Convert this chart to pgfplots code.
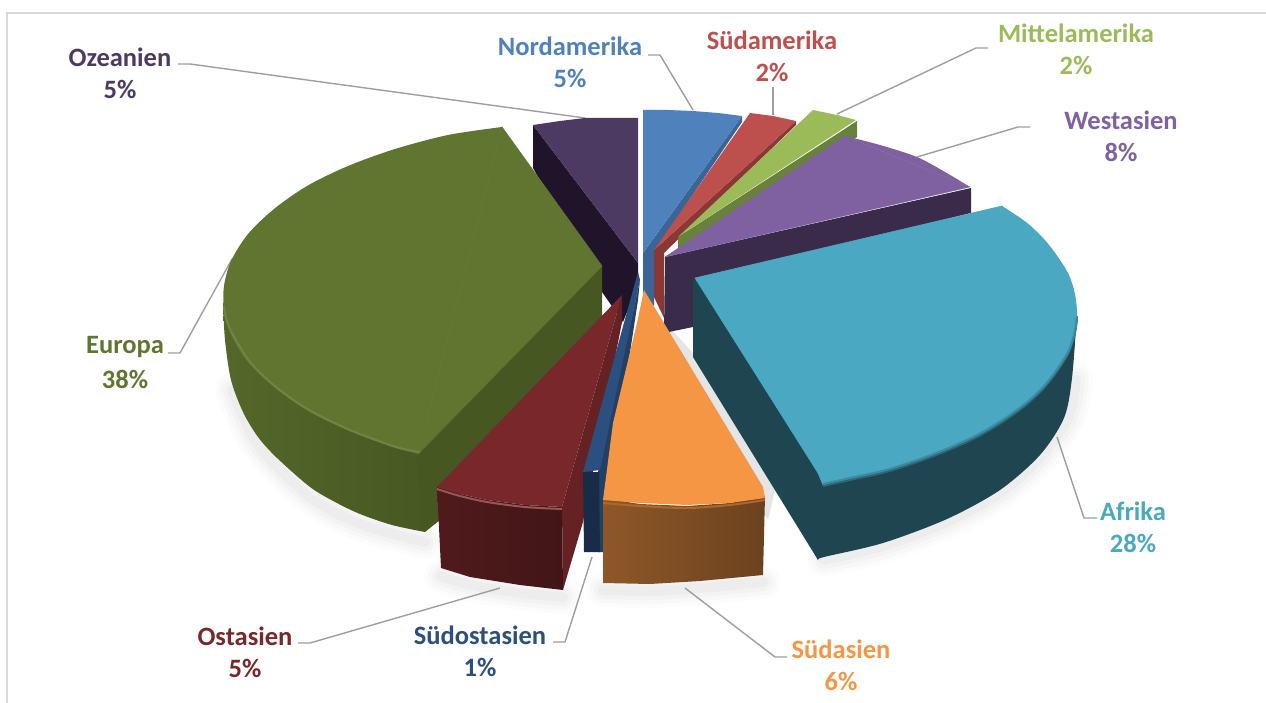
\documentclass[border=0pt]{standalone}
\usepackage{pgfplots}
\usepackage{fontspec}
\setmainfont{Carlito}
\pgfplotsset{compat=1.18}
\definecolor{cO}{HTML}{4D3A62}\definecolor{cOd}{HTML}{1F1429}
\definecolor{cN}{HTML}{4F81BD}\definecolor{cNd}{HTML}{3A6594}
\definecolor{cS}{HTML}{BD4F4C}\definecolor{cSd}{HTML}{8A3836}
\definecolor{cM}{HTML}{9BBB59}\definecolor{cMd}{HTML}{6A803D}
\definecolor{cW}{HTML}{7F60A0}\definecolor{cWd}{HTML}{3B2B4A}
\definecolor{cA}{HTML}{4AA8C3}\definecolor{cAd}{HTML}{1F4650}
\definecolor{cSa}{HTML}{F59645}\definecolor{cE}{HTML}{60752F}\definecolor{cEd}{HTML}{465722}
\definecolor{cOs}{HTML}{78282A}\definecolor{cOsd}{HTML}{652123}
\definecolor{cSo}{HTML}{2B4F7E}\definecolor{cSod}{HTML}{223F66}
\newcommand{\softshadow}[1]{%
\addplot[smooth,draw=black,opacity=0.012,line width=34pt,line cap=round,line join=round] coordinates {#1};
\addplot[smooth,draw=black,opacity=0.015,line width=26pt,line cap=round,line join=round] coordinates {#1};
\addplot[smooth,draw=black,opacity=0.02,line width=18pt,line cap=round,line join=round] coordinates {#1};
\addplot[smooth,draw=black,opacity=0.025,line width=10pt,line cap=round,line join=round] coordinates {#1};
}
\newcommand{\lbl}[5]{%
\node[text=#1,font=\fontsize{26.5}{28}\selectfont\bfseries,anchor=center] at (axis cs:#2,#3) {#4};
\node[text=#1,font=\fontsize{26.5}{28}\selectfont\bfseries,anchor=center] at (axis cs:#2,#3+32) {#5};
}
\begin{document}
\begin{tikzpicture}
\path[use as bounding box] (0,0) rectangle (1266pt,703pt);
\begin{axis}[at={(0,0)},anchor=south west,scale only axis,width=1266pt,height=703pt,xmin=0,xmax=1266,ymin=0,ymax=703,y dir=reverse,hide axis,clip=true,no markers]
% frame
\addplot[draw=black!15,line width=1.6pt] coordinates {(7,703)(7,13)(1266,13)};
% shadows
\softshadow{(232,390)(258,445)(310,497)(360,524)(425,542)}
\softshadow{(441,576)(470,585)(520,593)(563,597)}
\softshadow{(603,590)(650,591)(700,588)(763,582)}
\softshadow{(824,560)(883,546)(947,522)(1000,493)(1040,458)(1068,418)(1076,380)}
\addplot[fill=black!10,draw=none] coordinates {(672,330)(692,352)(775,490)(768,520)(660,340)} -- cycle;
% leader lines
\addplot[draw=black!38,line width=1.4pt] coordinates {(178,64)(190,64)(585,118)};
\addplot[draw=black!38,line width=1.4pt] coordinates {(648,55)(660,55)(693,110)};
\addplot[draw=black!38,line width=1.4pt] coordinates {(773,87)(773,115)};
\addplot[draw=black!38,line width=1.4pt] coordinates {(988,48)(976,48)(837,114)};
\addplot[draw=black!38,line width=1.4pt] coordinates {(1030,127)(1018,127)(917,157)};
\addplot[draw=black!38,line width=1.4pt] coordinates {(1057,437)(1084,518)(1097,518)};
\addplot[draw=black!38,line width=1.4pt] coordinates {(685,588)(775,657)(787,657)};
\addplot[draw=black!38,line width=1.4pt] coordinates {(592,557)(565,642)(553,642)};
\addplot[draw=black!38,line width=1.4pt] coordinates {(500,588)(310,643)(298,643)};
\addplot[draw=black!38,line width=1.4pt] coordinates {(232,259)(180,353)(168,353)};
% Ozeanien
\addplot[fill=cOd,draw=none] coordinates {(533,125)(638,263)(638,285)(623,322)(602,292)(533,168)} -- cycle;
\addplot[fill=cO,draw=none] coordinates {(533,125)(560,121)(585,118)(612,118)(638,118)(638,263)} -- cycle;
% Nordamerika
\addplot[fill=cNd,draw=none] coordinates {(742,116)(742,122)(654,252)(654,305)(646,315)(643,290)(643,253)} -- cycle;
\addplot[fill=cN,draw=none] coordinates {(643,110)(668,110)(693,111)(718,113)(742,116)(643,253)} -- cycle;
% Suedamerika
\addplot[fill=cSd,draw=none] coordinates {(796,121)(796,125)(664,253)(664,318)(654,297)(654,250)} -- cycle;
\addplot[fill=cS,draw=none] coordinates {(750,113)(773,116)(796,121)(654,250)} -- cycle;
% Mittelamerika
\addplot[fill=cMd,draw=none] coordinates {(857,121)(857,137)(700,245)(678,248)(678,237)} -- cycle;
\addplot[fill=cM,draw=none] coordinates {(813,110)(837,115)(856,120)(678,237)} -- cycle;
% Westasien
\addplot[fill=cWd,draw=none] coordinates {(665,257)(971,188)(971,213)(700,280)(693,327)(664,333)} -- cycle;
\addplot[fill=cW,smooth,draw=none] coordinates {(845,136)(880,145)(917,157)(945,172)(970,187)} -- cycle;
\addplot[fill=cW,draw=cW,line width=0.3pt] coordinates {(845,136)(970,187)(665,257)} -- cycle;
% Europa
\addplot[left color=cE!88!black,right color=cEd,smooth,draw=none] coordinates {(223,303)(225,340)(231,380)(243,412)(258,437)(277,458)(310,487)(335,502)(360,514)(392,525)(425,532)} -- (axis cs:440,440) -- (axis cs:300,300) -- cycle;
\addplot[fill=cEd,draw=none] coordinates {(602,266)(602,330)(440,520)(425,532)(415,445)} -- cycle;
\addplot[fill=cE,smooth,draw=none] coordinates {(502,127)(448,135)(395,149)(348,166)(307,186)(274,209)(248,234)(231,261)(224,286)(224,310)(231,335)(248,362)(274,387)(307,410)(348,430)(395,447)(418,454)} -- cycle;
\addplot[fill=cE,draw=cE,line width=0.6pt] coordinates {(602,266)(502,127)(418,454)} -- cycle;
\addplot[smooth,draw=cE!90!white,line width=2.2pt] coordinates {(224,306)(226,318)(233,335)(250,362)(276,387)(309,410)(350,430)(396,447)(420,452)};
% Afrika
\addplot[fill=cAd,draw=none] coordinates {(695,278)(693,280)(693,357)(818,560)(830,480)} -- cycle;
\addplot[fill=cAd,smooth,draw=none] coordinates {(1077,313)(1072,378)(1064,418)(1040,455)(1000,490)(947,519)(883,543)(824,557)(818,560)} -- (axis cs:820,470) -- cycle;
\addplot[fill=cA,draw=cA,line width=0.6pt] coordinates {(695,278)(1002,206)(1077,313)(823,485)(818,473)} -- cycle;
\addplot[fill=cA,smooth,draw=none] coordinates {(1002,206)(1026,222)(1044,239)(1058,257)(1069,275)(1075,294)(1077,313)(1075,332)(1069,351)(1058,369)(1044,387)(1026,404)(1004,420)(979,435)(951,448)(920,460)(886,471)(850,479)(823,485)} -- cycle;
\addplot[smooth,draw=cA!35!cAd,line width=2pt] coordinates {(823,486)(850,480)(886,472)(920,461)(951,449)(979,436)(1004,421)(1026,405)(1044,388)(1058,370)(1069,352)(1075,333)(1077,318)};
\addplot[smooth,draw=cA!70!cAd,line width=2pt] coordinates {(823,484)(850,478)(886,470)(920,459)(951,447)(979,434)(1004,419)(1026,403)(1044,386)(1058,368)(1069,350)(1075,331)(1077,316)};
% Ostasien
\addplot[fill=cOsd,draw=none] coordinates {(622,295)(622,322)(583,522)(563,590)(562,507)} -- cycle;
\addplot[left color=cOsd!80!black,right color=cOsd!65!black,draw=none] coordinates {(437,487)(460,494)(487,500)(525,505)(562,507)(563,590)(520,585)(470,577)(441,568)} -- cycle;
\addplot[fill=cOs,draw=none] coordinates {(622,295)(437,487)(460,494)(487,500)(525,505)(562,507)} -- cycle;
\addplot[smooth,draw=cOs!78!white,line width=2pt] coordinates {(437,489)(460,496)(487,502)(525,507)(562,509)};
% Suedostasien
\addplot[fill=cSod,draw=none] coordinates {(640,280)(598,472)(598,552)(604,552)(606,510)(638,300)} -- cycle;
\addplot[fill=cSod!70!black,draw=none] coordinates {(583,472)(599,472)(600,552)(584,552)} -- cycle;
\addplot[fill=cSo,draw=none] coordinates {(638,272)(640,280)(600,470)(583,472)} -- cycle;
% Suedasien
\addplot[left color=cSa!58!black,right color=cSa!44!black,draw=none] coordinates {(603,498)(640,504)(687,506)(730,503)(765,496)(763,575)(700,581)(650,584)(603,583)} -- cycle;
\addplot[fill=cSa,draw=none] coordinates {(644,290)(763,487)(765,498)(730,503)(687,505)(640,503)(603,500)(613,423)(637,323)} -- cycle;
\addplot[smooth,draw=cSa!70!black,line width=2pt] coordinates {(603,503)(640,506)(687,508)(730,505)(765,500)};
% labels
\lbl{cO}{120}{57}{Ozeanien}{5\%}
\lbl{cN}{570}{46}{Nordamerika}{5\%}
\lbl{cS}{772}{40}{Südamerika}{2\%}
\lbl{cM}{1076}{33}{Mittelamerika}{2\%}
\lbl{cW}{1121}{120}{Westasien}{8\%}
\lbl{cA}{1133}{511}{Afrika}{28\%}
\lbl{cSa}{841}{649}{Südasien}{6\%}
\lbl{cSo}{480}{635}{Südostasien}{1\%}
\lbl{cOs}{245}{636}{Ostasien}{5\%}
\lbl{cE}{125}{347}{Europa}{38\%}
\end{axis}
\end{tikzpicture}
\end{document}
